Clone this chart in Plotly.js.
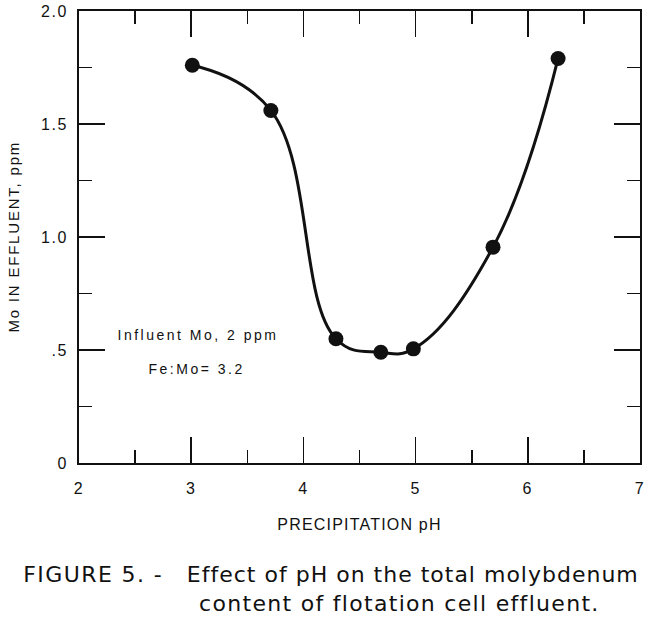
<!DOCTYPE html>
<html>
<head>
<meta charset="utf-8">
<script src="https://cdn.plot.ly/plotly-3.0.1.min.js"></script>
<style>
  html, body { margin: 0; padding: 0; background: #fff; }
  #chart { width: 651px; height: 623px; }
  text.xtitle { letter-spacing: 1.2px; }
  g.xtick text, g.ytick text { letter-spacing: 1.5px; }
  g.annotation[data-index="0"] text, g.annotation[data-index="1"] text { letter-spacing: 2.5px; }
  g.annotation[data-index="2"] text { letter-spacing: 1.4px; }
  g.annotation[data-index="3"] text { letter-spacing: 1px; }
  g.annotation[data-index="4"] text { letter-spacing: 1.3px; }
  g.annotation[data-index="5"] text { letter-spacing: 1.8px; }
</style>
</head>
<body>
<div id="chart"></div>
<script>
// Data
const precipitationPH = [3.01, 3.71, 4.29, 4.69, 4.98, 5.69, 6.27];
const moEffluentPPM   = [1.76, 1.56, 0.55, 0.49, 0.505, 0.955, 1.79];

const xTickVals = [2, 3, 4, 5, 6, 7];
const xTickText = ['2', '3', '4', '5', '6', '7'];
const yTickVals = [0, 0.5, 1.0, 1.5, 2.0];
const yTickText = ['0', '.5', '1.0', '1.5', '2.0'];

const xTitle = 'PRECIPITATION pH';
const yTitle = 'Mo IN EFFLUENT, ppm';
const noteLines = ['Influent Mo, 2 ppm', 'Fe:Mo= 3.2'];
const captionLabel = 'FIGURE 5. -';
const captionLines = ['Effect of pH on the total molybdenum', 'content of flotation cell effluent.'];

const ink = '#111';
const baseFont = 'Liberation Sans, Arial, Helvetica, sans-serif';
const capFont = 'DejaVu Sans, Verdana, sans-serif';

const trace = {
  x: precipitationPH,
  y: moEffluentPPM,
  type: 'scatter',
  mode: 'lines+markers',
  line: { shape: 'spline', smoothing: 1.2, color: ink, width: 3 },
  marker: { size: 15, color: ink },
  showlegend: false,
  hoverinfo: 'x+y'
};

const axisCommon = {
  showgrid: false,
  zeroline: false,
  showline: true,
  linecolor: ink,
  linewidth: 2,
  mirror: 'ticks',
  ticks: 'inside',
  ticklen: 26,
  tickwidth: 1.6,
  tickcolor: ink,
  tickfont: { family: baseFont, size: 16, color: ink },
  fixedrange: true
};

function px(xp) { return (xp - 79) / 561; }
function py(yp) { return (463 - yp) / 452; }

const layout = {
  width: 651,
  height: 623,
  margin: { l: 79, r: 11, t: 11, b: 160 },
  paper_bgcolor: '#fff',
  plot_bgcolor: '#fff',
  xaxis: Object.assign({}, axisCommon, {
    range: [2, 7],
    tickmode: 'array',
    tickvals: xTickVals,
    ticktext: xTickText,
    minor: { dtick: 0.5, tick0: 2, ticks: 'inside', ticklen: 13, tickwidth: 1.6, tickcolor: ink },
    ticklabelstandoff: 10,
    title: { text: xTitle, font: { family: baseFont, size: 16, color: ink }, standoff: 23 }
  }),
  yaxis: Object.assign({}, axisCommon, {
    range: [0, 2],
    tickmode: 'array',
    tickvals: yTickVals,
    ticktext: yTickText,
    minor: { dtick: 0.25, tick0: 0, ticks: 'inside', ticklen: 13, tickwidth: 1.6, tickcolor: ink },
    ticklabelstandoff: 6,
    title: { text: '' }
  }),
  annotations: [
    { text: noteLines[0], xref: 'paper', yref: 'paper', x: px(198), y: py(335),
      xanchor: 'center', yanchor: 'middle', showarrow: false, font: { family: baseFont, size: 14, color: ink } },
    { text: noteLines[1], xref: 'paper', yref: 'paper', x: px(196), y: py(369),
      xanchor: 'center', yanchor: 'middle', showarrow: false, font: { family: baseFont, size: 14, color: ink } },
    { text: captionLabel, xref: 'paper', yref: 'paper', x: px(93), y: py(574),
      xanchor: 'center', yanchor: 'middle', showarrow: false, font: { family: capFont, size: 22, color: ink } },
    { text: captionLines[0], xref: 'paper', yref: 'paper', x: px(413), y: py(574),
      xanchor: 'center', yanchor: 'middle', showarrow: false, font: { family: capFont, size: 22, color: ink } },
    { text: captionLines[1], xref: 'paper', yref: 'paper', x: px(399), y: py(603),
      xanchor: 'center', yanchor: 'middle', showarrow: false, font: { family: capFont, size: 22, color: ink } },
    { text: yTitle, xref: 'paper', yref: 'paper', x: px(12.5), y: 0.5, textangle: -90,
      xanchor: 'center', yanchor: 'middle', showarrow: false, font: { family: baseFont, size: 15, color: ink } }
  ]
};

Plotly.newPlot('chart', [trace], layout, { displayModeBar: false, staticPlot: true });
</script>
</body>
</html>
